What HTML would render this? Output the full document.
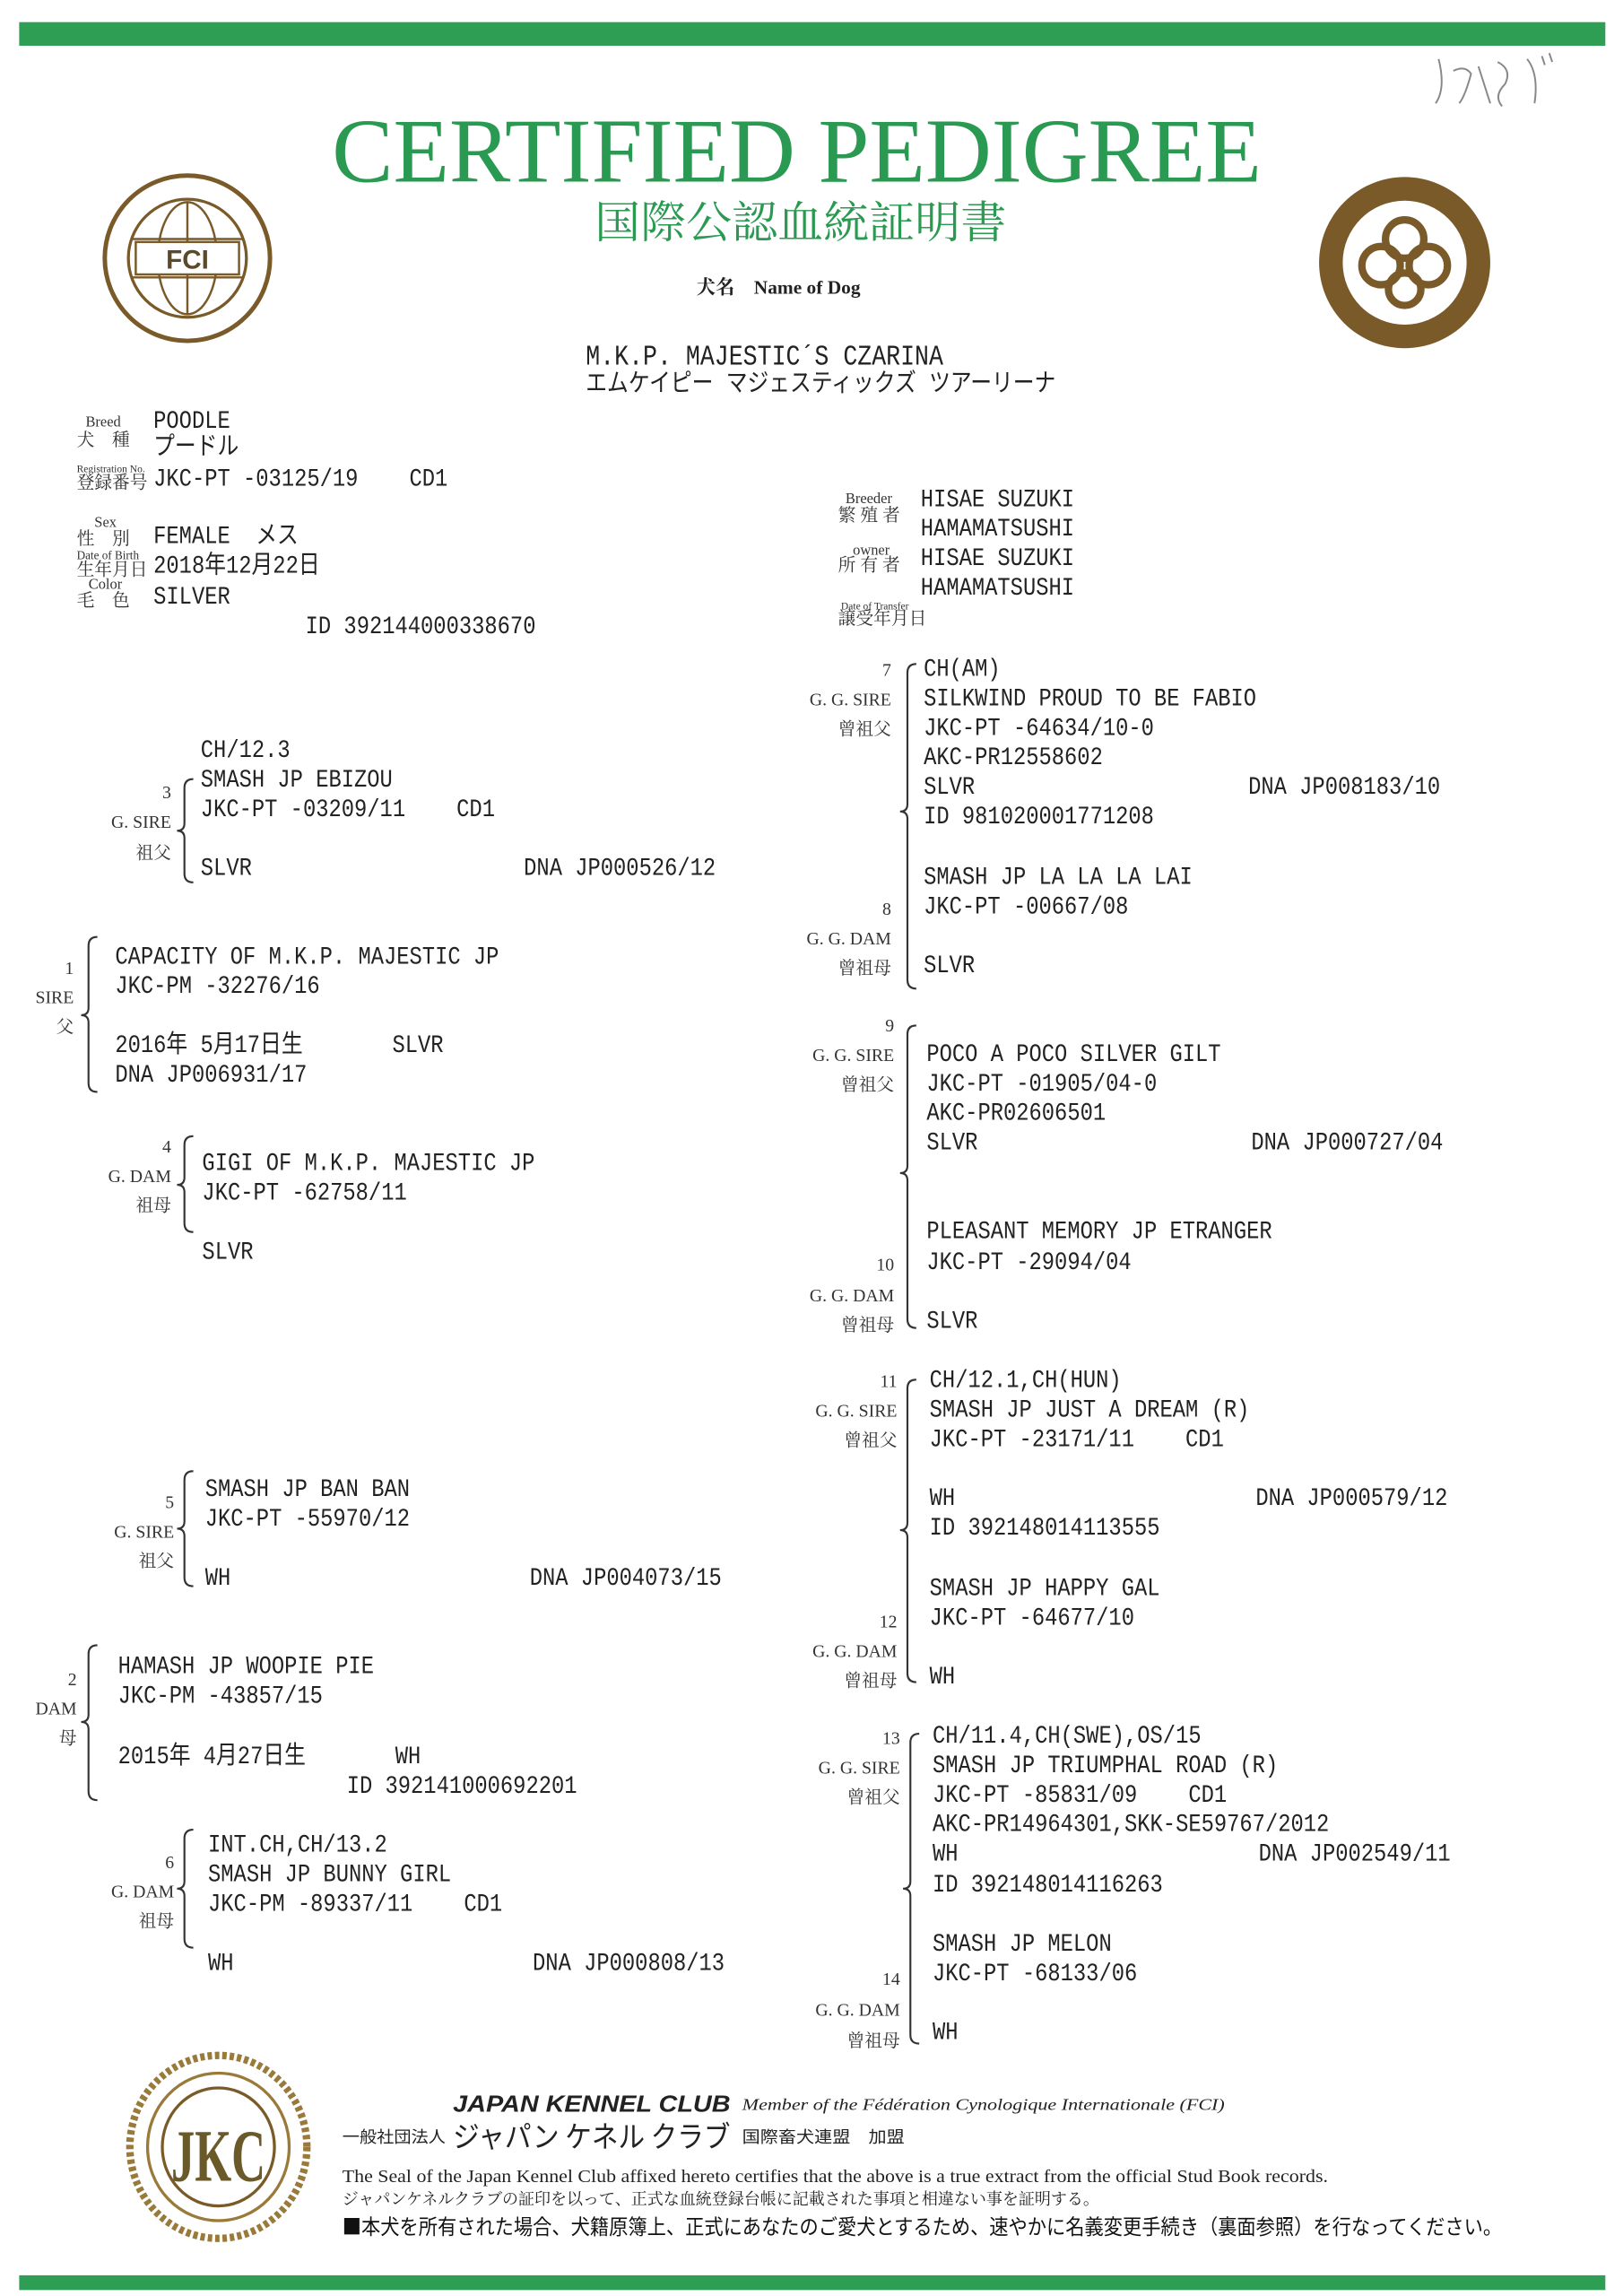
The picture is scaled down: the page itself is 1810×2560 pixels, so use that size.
<!DOCTYPE html>
<html><head><meta charset="utf-8">
<style>
html,body{margin:0;padding:0;background:#fff;}
#pg{position:relative;width:1810px;height:2560px;overflow:hidden;background:#fff;}
#c{position:absolute;left:0;top:0;width:1100px;height:1556px;transform:scale(1.6455,1.6452);transform-origin:0 0;}
.t{position:absolute;font-family:"Liberation Mono","Noto Sans CJK JP",monospace;font-size:17px;line-height:20px;white-space:pre;color:#222;transform:scaleX(.85);transform-origin:0 0;}
.l{position:absolute;font-family:"Liberation Serif","Noto Serif CJK SC",serif;font-size:12px;line-height:14px;white-space:pre;color:#333;text-align:right;}
.j{position:absolute;font-family:"Liberation Serif","Noto Serif CJK SC",serif;font-size:12px;line-height:14px;white-space:pre;color:#333;}
svg{position:absolute;left:0;top:0;}
</style></head><body><div id="pg"><div id="c">
<svg width="1100" height="1556" viewBox="0 0 1100 1556">
<rect x="13" y="15" width="1075" height="16" fill="#2e9e55"/>
<rect x="13" y="1542" width="1075" height="10" fill="#2e9e55"/>
<path d="M975 40 q5 20 -2 30 M985 48 q8 -4 12 2 q-4 15 -8 20 M1002 45 l8 25 M1015 42 q10 5 5 15 q-8 8 -2 15 M1035 40 q8 10 5 30 M1045 38 l2 6 M1050 36 l2 6" stroke="#888" stroke-width="1.2" fill="none"/>
<text x="225" y="123" font-family="Liberation Serif,serif" font-size="62" fill="#2a9a52" textLength="630" lengthAdjust="spacingAndGlyphs">CERTIFIED PEDIGREE</text>
<text x="403" y="161" font-family="Liberation Serif,'Noto Serif CJK SC',serif" font-size="30" fill="#2a9a52" textLength="279" lengthAdjust="spacingAndGlyphs">国際公認血統証明書</text>
<g stroke="#7a5a28" fill="none">
<circle cx="127" cy="175" r="56" stroke-width="3"/>
<circle cx="127" cy="175" r="40" stroke-width="2"/>
<ellipse cx="127" cy="175" rx="20" ry="38" stroke-width="1.5"/>
<line x1="89" y1="162" x2="165" y2="162" stroke-width="1.5"/><line x1="89" y1="188" x2="165" y2="188" stroke-width="1.5"/>
<line x1="127" y1="137" x2="127" y2="213" stroke-width="1.5"/>
</g>
<rect x="92" y="164" width="70" height="22" fill="#fff" stroke="#7a5a28" stroke-width="1.5"/>
<text x="127" y="182" text-anchor="middle" font-family="Liberation Sans,sans-serif" font-weight="bold" font-size="18" fill="#5a4a2a">FCI</text>
<circle cx="952" cy="178" r="58" fill="#7a5a28"/>
<circle cx="952" cy="178" r="42" fill="#fff"/>
<g stroke="#7a5a28" stroke-width="5" fill="none">
<circle cx="952" cy="162" r="13"/><circle cx="936" cy="180" r="13"/><circle cx="968" cy="180" r="13"/><circle cx="952" cy="196" r="11"/>
</g>
<ellipse cx="148" cy="1455" rx="60" ry="62" fill="#fff" stroke="#9a7a3a" stroke-width="5" stroke-dasharray="3 2"/>
<ellipse cx="148" cy="1455" rx="48" ry="50" fill="none" stroke="#9a7a3a" stroke-width="2"/>
<ellipse cx="148" cy="1455" rx="38" ry="40" fill="#fff" stroke="#7a5a28" stroke-width="2"/>
<text x="148" y="1478" text-anchor="middle" font-family="Liberation Serif,serif" font-weight="bold" font-size="50" fill="#6a5a2a" textLength="64" lengthAdjust="spacingAndGlyphs">JKC</text>
<g stroke="#333" stroke-width="1.3" fill="none">
<path d="M131 528 Q125 528 125 534 L125 558 Q125 563 120 563 Q125 563 125 568 L125 592 Q125 598 131 598"/>
<path d="M66 635 Q60 635 60 641 L60 683 Q60 688 55 688 Q60 688 60 693 L60 734 Q60 740 66 740"/>
<path d="M131 770 Q125 770 125 776 L125 798 Q125 803 120 803 Q125 803 125 808 L125 829 Q125 835 131 835"/>
<path d="M131 997 Q125 997 125 1003 L125 1031 Q125 1036 120 1036 Q125 1036 125 1041 L125 1069 Q125 1075 131 1075"/>
<path d="M66 1115 Q60 1115 60 1121 L60 1162 Q60 1167 55 1167 Q60 1167 60 1172 L60 1214 Q60 1220 66 1220"/>
<path d="M131 1240 Q125 1240 125 1246 L125 1275 Q125 1280 120 1280 Q125 1280 125 1285 L125 1314 Q125 1320 131 1320"/>
<path d="M621 450 Q615 450 615 456 L615 545 Q615 550 610 550 Q615 550 615 555 L615 664 Q615 670 621 670"/>
<path d="M621 695 Q615 695 615 701 L615 790 Q615 795 610 795 Q615 795 615 800 L615 894 Q615 900 621 900"/>
<path d="M621 935 Q615 935 615 941 L615 1032 Q615 1037 610 1037 Q615 1037 615 1042 L615 1134 Q615 1140 621 1140"/>
<path d="M623 1175 Q617 1175 617 1181 L617 1275 Q617 1280 612 1280 Q617 1280 617 1285 L617 1379 Q617 1385 623 1385"/>
</g>
<text x="307" y="1431" font-family="Liberation Sans,sans-serif" font-weight="bold" font-style="italic" font-size="16" fill="#222" textLength="188" lengthAdjust="spacingAndGlyphs">JAPAN KENNEL CLUB</text>
<text x="503" y="1430" font-family="Liberation Serif,serif" font-style="italic" font-size="11" fill="#222" textLength="327" lengthAdjust="spacingAndGlyphs">Member of the Fédération Cynologique Internationale (FCI)</text>
<text x="232" y="1452" font-family="'Noto Sans CJK JP',sans-serif" font-size="11" fill="#222" textLength="70" lengthAdjust="spacingAndGlyphs">一般社団法人</text>
<text x="307" y="1455" font-family="'Noto Sans CJK JP',sans-serif" font-size="20" fill="#222" textLength="188" lengthAdjust="spacingAndGlyphs">ジャパン ケネル クラブ</text>
<text x="503" y="1452" font-family="'Noto Sans CJK JP',sans-serif" font-size="11" fill="#222" textLength="110" lengthAdjust="spacingAndGlyphs">国際畜犬連盟　加盟</text>
<text x="232" y="1479" font-family="Liberation Serif,serif" font-size="12" fill="#222" textLength="668" lengthAdjust="spacingAndGlyphs">The Seal of the Japan Kennel Club affixed hereto certifies that the above is a true extract from the official Stud Book records.</text>
<text x="232" y="1494" font-family="'Noto Serif CJK SC',serif" font-size="11" fill="#222" textLength="513" lengthAdjust="spacingAndGlyphs">ジャパンケネルクラブの証印を以って、正式な血統登録台帳に記載された事項と相違ない事を証明する。</text>
<text x="232" y="1514" font-family="'Noto Sans CJK JP',sans-serif" font-size="14" fill="#111" textLength="786" lengthAdjust="spacingAndGlyphs">■本犬を所有された場合、犬籍原簿上、正式にあなたのご愛犬とするため、速やかに名義変更手続き（裏面参照）を行なってください。</text>
<text x="472" y="199" font-family="Liberation Serif,'Noto Serif CJK SC',serif" font-weight="bold" font-size="13" fill="#222">犬名　Name of Dog</text>
</svg>

<div class="t" style="left:397px;top:232px;font-size:19px">M.K.P. MAJESTIC´S CZARINA</div>
<div class="t" style="left:397px;top:252px">エムケイピー マジェスティックズ ツアーリーナ</div>

<div class="j" style="left:58px;top:280px;font-size:10px">Breed</div>
<div class="j" style="left:52px;top:291px">犬　種</div>
<div class="t" style="left:104px;top:277px">POODLE</div>
<div class="t" style="left:104px;top:295px">プードル</div>
<div class="j" style="left:52px;top:311px;font-size:7px">Registration No.</div>
<div class="j" style="left:52px;top:320px">登録番号</div>
<div class="t" style="left:104px;top:316px">JKC-PT -03125/19    CD1</div>
<div class="j" style="left:64px;top:348px;font-size:10px">Sex</div>
<div class="j" style="left:52px;top:358px">性　別</div>
<div class="t" style="left:104px;top:355px">FEMALE  メス</div>
<div class="j" style="left:52px;top:370px;font-size:8px">Date of Birth</div>
<div class="j" style="left:52px;top:379px">生年月日</div>
<div class="t" style="left:104px;top:375px">2018年12月22日</div>
<div class="j" style="left:60px;top:390px;font-size:10px">Color</div>
<div class="j" style="left:52px;top:400px">毛　色</div>
<div class="t" style="left:104px;top:396px">SILVER</div>
<div class="t" style="left:207px;top:416px">ID 392144000338670</div>

<div class="j" style="left:573px;top:332px;font-size:10px">Breeder</div>
<div class="j" style="left:568px;top:342px">繁 殖 者</div>
<div class="t" style="left:624px;top:330px">HISAE SUZUKI</div>
<div class="t" style="left:624px;top:350px">HAMAMATSUSHI</div>
<div class="j" style="left:578px;top:367px;font-size:10px">owner</div>
<div class="j" style="left:568px;top:376px">所 有 者</div>
<div class="t" style="left:624px;top:370px">HISAE SUZUKI</div>
<div class="t" style="left:624px;top:390px">HAMAMATSUSHI</div>
<div class="j" style="left:570px;top:404px;font-size:7px">Date of Transfer</div>
<div class="j" style="left:568px;top:412px">譲受年月日</div>

<div class="l" style="left:60px;top:530px;width:56px">3</div>
<div class="l" style="left:50px;top:550px;width:66px">G. SIRE</div>
<div class="l" style="left:50px;top:571px;width:66px">祖父</div>
<div class="t" style="left:136px;top:500px">CH/12.3</div>
<div class="t" style="left:136px;top:520px">SMASH JP EBIZOU</div>
<div class="t" style="left:136px;top:540px">JKC-PT -03209/11    CD1</div>
<div class="t" style="left:136px;top:580px">SLVR</div>
<div class="t" style="left:355px;top:580px">DNA JP000526/12</div>
<div class="l" style="left:0px;top:649px;width:50px">1</div>
<div class="l" style="left:0px;top:669px;width:50px">SIRE</div>
<div class="l" style="left:0px;top:689px;width:50px">父</div>
<div class="t" style="left:78px;top:640px">CAPACITY OF M.K.P. MAJESTIC JP</div>
<div class="t" style="left:78px;top:660px">JKC-PM -32276/16</div>
<div class="t" style="left:78px;top:700px">2016年 5月17日生       SLVR</div>
<div class="t" style="left:78px;top:720px">DNA JP006931/17</div>
<div class="l" style="left:60px;top:770px;width:56px">4</div>
<div class="l" style="left:50px;top:790px;width:66px">G. DAM</div>
<div class="l" style="left:50px;top:810px;width:66px">祖母</div>
<div class="t" style="left:137px;top:780px">GIGI OF M.K.P. MAJESTIC JP</div>
<div class="t" style="left:137px;top:800px">JKC-PT -62758/11</div>
<div class="t" style="left:137px;top:840px">SLVR</div>
<div class="l" style="left:60px;top:1011px;width:58px">5</div>
<div class="l" style="left:50px;top:1031px;width:68px">G. SIRE</div>
<div class="l" style="left:50px;top:1051px;width:68px">祖父</div>
<div class="t" style="left:139px;top:1001px">SMASH JP BAN BAN</div>
<div class="t" style="left:139px;top:1021px">JKC-PT -55970/12</div>
<div class="t" style="left:139px;top:1061px">WH</div>
<div class="t" style="left:359px;top:1061px">DNA JP004073/15</div>
<div class="l" style="left:0px;top:1131px;width:52px">2</div>
<div class="l" style="left:0px;top:1151px;width:52px">DAM</div>
<div class="l" style="left:0px;top:1171px;width:52px">母</div>
<div class="t" style="left:80px;top:1121px">HAMASH JP WOOPIE PIE</div>
<div class="t" style="left:80px;top:1141px">JKC-PM -43857/15</div>
<div class="t" style="left:80px;top:1182px">2015年 4月27日生       WH</div>
<div class="t" style="left:235px;top:1202px">ID 392141000692201</div>
<div class="l" style="left:60px;top:1255px;width:58px">6</div>
<div class="l" style="left:50px;top:1275px;width:68px">G. DAM</div>
<div class="l" style="left:50px;top:1295px;width:68px">祖母</div>
<div class="t" style="left:141px;top:1242px">INT.CH,CH/13.2</div>
<div class="t" style="left:141px;top:1262px">SMASH JP BUNNY GIRL</div>
<div class="t" style="left:141px;top:1282px">JKC-PM -89337/11    CD1</div>
<div class="t" style="left:141px;top:1322px">WH</div>
<div class="t" style="left:361px;top:1322px">DNA JP000808/13</div>

<div class="l" style="left:540px;top:447px;width:64px">7</div>
<div class="l" style="left:530px;top:467px;width:74px">G. G. SIRE</div>
<div class="l" style="left:530px;top:487px;width:74px">曾祖父</div>
<div class="t" style="left:626px;top:445px">CH(AM)</div>
<div class="t" style="left:626px;top:465px">SILKWIND PROUD TO BE FABIO</div>
<div class="t" style="left:626px;top:485px">JKC-PT -64634/10-0</div>
<div class="t" style="left:626px;top:505px">AKC-PR12558602</div>
<div class="t" style="left:626px;top:525px">SLVR</div>
<div class="t" style="left:846px;top:525px">DNA JP008183/10</div>
<div class="t" style="left:626px;top:545px">ID 981020001771208</div>
<div class="t" style="left:626px;top:586px">SMASH JP LA LA LA LAI</div>
<div class="t" style="left:626px;top:606px">JKC-PT -00667/08</div>
<div class="t" style="left:626px;top:646px">SLVR</div>
<div class="l" style="left:540px;top:609px;width:64px">8</div>
<div class="l" style="left:530px;top:629px;width:74px">G. G. DAM</div>
<div class="l" style="left:530px;top:649px;width:74px">曾祖母</div>
<div class="l" style="left:540px;top:688px;width:66px">9</div>
<div class="l" style="left:530px;top:708px;width:76px">G. G. SIRE</div>
<div class="l" style="left:530px;top:728px;width:76px">曾祖父</div>
<div class="t" style="left:628px;top:706px">POCO A POCO SILVER GILT</div>
<div class="t" style="left:628px;top:726px">JKC-PT -01905/04-0</div>
<div class="t" style="left:628px;top:746px">AKC-PR02606501</div>
<div class="t" style="left:628px;top:766px">SLVR</div>
<div class="t" style="left:848px;top:766px">DNA JP000727/04</div>
<div class="t" style="left:628px;top:826px">PLEASANT MEMORY JP ETRANGER</div>
<div class="t" style="left:628px;top:847px">JKC-PT -29094/04</div>
<div class="t" style="left:628px;top:887px">SLVR</div>
<div class="l" style="left:540px;top:850px;width:66px">10</div>
<div class="l" style="left:530px;top:871px;width:76px">G. G. DAM</div>
<div class="l" style="left:530px;top:891px;width:76px">曾祖母</div>
<div class="l" style="left:540px;top:929px;width:68px">11</div>
<div class="l" style="left:530px;top:949px;width:78px">G. G. SIRE</div>
<div class="l" style="left:530px;top:969px;width:78px">曾祖父</div>
<div class="t" style="left:630px;top:927px">CH/12.1,CH(HUN)</div>
<div class="t" style="left:630px;top:947px">SMASH JP JUST A DREAM (R)</div>
<div class="t" style="left:630px;top:967px">JKC-PT -23171/11    CD1</div>
<div class="t" style="left:630px;top:1007px">WH</div>
<div class="t" style="left:851px;top:1007px">DNA JP000579/12</div>
<div class="t" style="left:630px;top:1027px">ID 392148014113555</div>
<div class="t" style="left:630px;top:1068px">SMASH JP HAPPY GAL</div>
<div class="t" style="left:630px;top:1088px">JKC-PT -64677/10</div>
<div class="t" style="left:630px;top:1128px">WH</div>
<div class="l" style="left:540px;top:1092px;width:68px">12</div>
<div class="l" style="left:530px;top:1112px;width:78px">G. G. DAM</div>
<div class="l" style="left:530px;top:1132px;width:78px">曾祖母</div>
<div class="l" style="left:540px;top:1171px;width:70px">13</div>
<div class="l" style="left:530px;top:1191px;width:80px">G. G. SIRE</div>
<div class="l" style="left:530px;top:1211px;width:80px">曾祖父</div>
<div class="t" style="left:632px;top:1168px">CH/11.4,CH(SWE),OS/15</div>
<div class="t" style="left:632px;top:1188px">SMASH JP TRIUMPHAL ROAD (R)</div>
<div class="t" style="left:632px;top:1208px">JKC-PT -85831/09    CD1</div>
<div class="t" style="left:632px;top:1228px">AKC-PR14964301,SKK-SE59767/2012</div>
<div class="t" style="left:632px;top:1248px">WH</div>
<div class="t" style="left:853px;top:1248px">DNA JP002549/11</div>
<div class="t" style="left:632px;top:1269px">ID 392148014116263</div>
<div class="t" style="left:632px;top:1309px">SMASH JP MELON</div>
<div class="t" style="left:632px;top:1329px">JKC-PT -68133/06</div>
<div class="t" style="left:632px;top:1369px">WH</div>
<div class="l" style="left:540px;top:1334px;width:70px">14</div>
<div class="l" style="left:530px;top:1355px;width:80px">G. G. DAM</div>
<div class="l" style="left:530px;top:1376px;width:80px">曾祖母</div>
</div></div></body></html>
